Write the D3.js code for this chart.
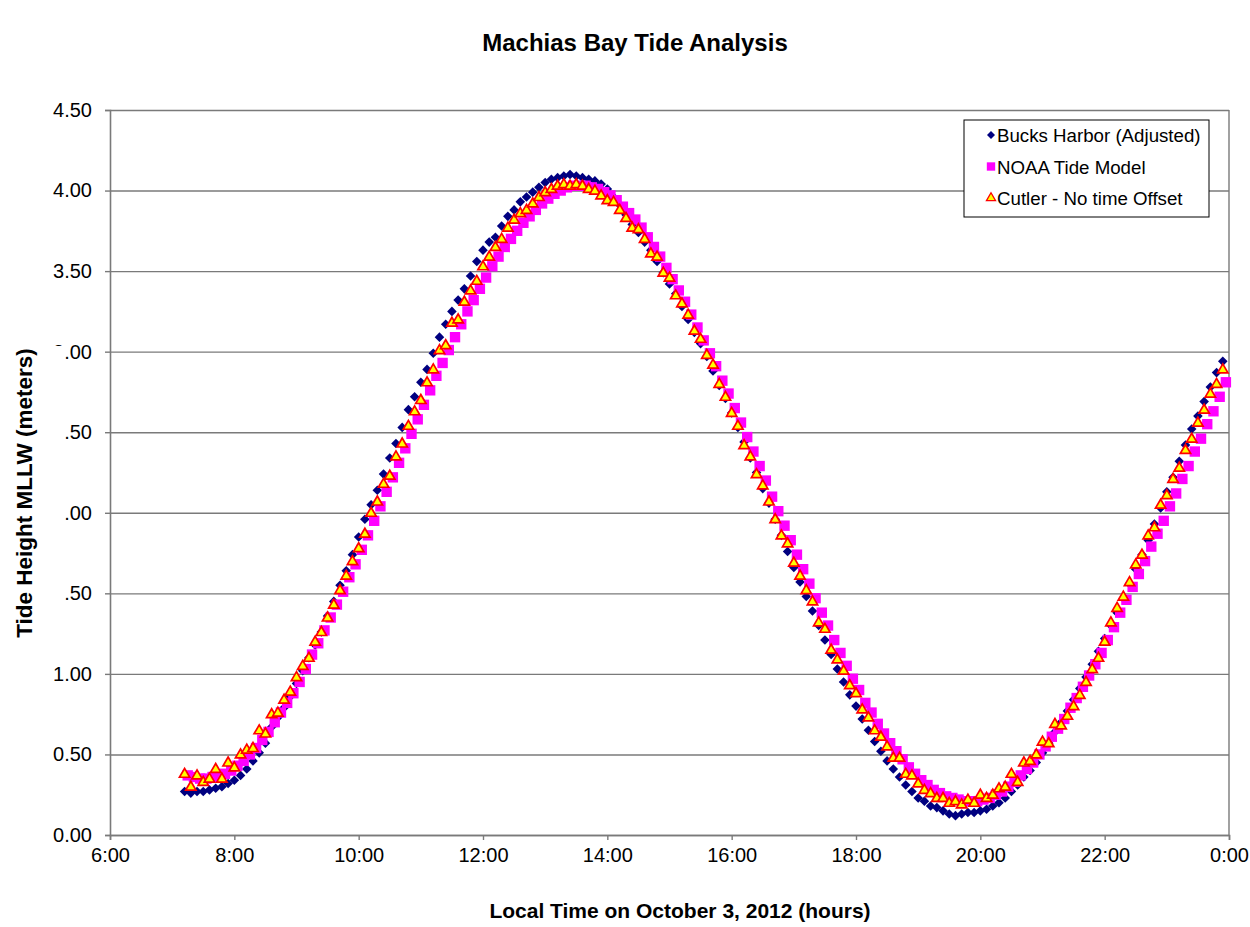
<!DOCTYPE html>
<html><head><meta charset="utf-8">
<script src="https://cdn.jsdelivr.net/npm/d3@7"></script>
<style>
html,body{margin:0;padding:0;background:#fff;overflow:hidden}
svg{display:block;font-family:Arial,"Liberation Sans",sans-serif}
</style></head><body>
<svg id="chart" width="1250" height="927"></svg>
<script>
// ---------- DATA ----------
const chartTitle = "Machias Bay Tide Analysis";
const xAxisTitle = "Local Time on October 3, 2012 (hours)";
const yAxisTitle = "Tide Height MLLW (meters)";
const seriesNames = ["Bucks Harbor (Adjusted)", "NOAA Tide Model", "Cutler - No time Offset"];

const xTickValues = ["6:00","8:00","10:00","12:00","14:00","16:00","18:00","20:00","22:00","24:00"];
const xTickLabels = ["6:00","8:00","10:00","12:00","14:00","16:00","18:00","20:00","22:00","0:00"];
const yTickValues = [0,0.5,1,1.5,2,2.5,3,3.5,4,4.5];

// sample times (Bucks Harbor and Cutler)
const times = [
"7:12","7:18","7:24","7:30","7:36","7:42","7:48","7:54",
"8:00","8:06","8:12","8:18","8:24","8:30","8:36","8:42","8:48","8:54",
"9:00","9:06","9:12","9:18","9:24","9:30","9:36","9:42","9:48","9:54",
"10:00","10:06","10:12","10:18","10:24","10:30","10:36","10:42","10:48","10:54",
"11:00","11:06","11:12","11:18","11:24","11:30","11:36","11:42","11:48","11:54",
"12:00","12:06","12:12","12:18","12:24","12:30","12:36","12:42","12:48","12:54",
"13:00","13:06","13:12","13:18","13:24","13:30","13:36","13:42","13:48","13:54",
"14:00","14:06","14:12","14:18","14:24","14:30","14:36","14:42","14:48","14:54",
"15:00","15:06","15:12","15:18","15:24","15:30","15:36","15:42","15:48","15:54",
"16:00","16:06","16:12","16:18","16:24","16:30","16:36","16:42","16:48","16:54",
"17:00","17:06","17:12","17:18","17:24","17:30","17:36","17:42","17:48","17:54",
"18:00","18:06","18:12","18:18","18:24","18:30","18:36","18:42","18:48","18:54",
"19:00","19:06","19:12","19:18","19:24","19:30","19:36","19:42","19:48","19:54",
"20:00","20:06","20:12","20:18","20:24","20:30","20:36","20:42","20:48","20:54",
"21:00","21:06","21:12","21:18","21:24","21:30","21:36","21:42","21:48","21:54",
"22:00","22:06","22:12","22:18","22:24","22:30","22:36","22:42","22:48","22:54",
"23:00","23:06","23:12","23:18","23:24","23:30","23:36","23:42","23:48","23:54"];

// NOAA model times
const noaaTimes = [
"7:15","7:21","7:27","7:33","7:39","7:45","7:51","7:57",
"8:03","8:09","8:15","8:21","8:27","8:33","8:39","8:45","8:51","8:57",
"9:03","9:09","9:15","9:21","9:27","9:33","9:39","9:45","9:51","9:57",
"10:03","10:09","10:15","10:21","10:27","10:33","10:39","10:45","10:51","10:57",
"11:03","11:09","11:15","11:21","11:27","11:33","11:39","11:45","11:51","11:57",
"12:03","12:09","12:15","12:21","12:27","12:33","12:39","12:45","12:51","12:57",
"13:03","13:09","13:15","13:21","13:27","13:33","13:39","13:45","13:51","13:57",
"14:03","14:09","14:15","14:21","14:27","14:33","14:39","14:45","14:51","14:57",
"15:03","15:09","15:15","15:21","15:27","15:33","15:39","15:45","15:51","15:57",
"16:03","16:09","16:15","16:21","16:27","16:33","16:39","16:45","16:51","16:57",
"17:03","17:09","17:15","17:21","17:27","17:33","17:39","17:45","17:51","17:57",
"18:03","18:09","18:15","18:21","18:27","18:33","18:39","18:45","18:51","18:57",
"19:03","19:09","19:15","19:21","19:27","19:33","19:39","19:45","19:51","19:57",
"20:03","20:09","20:15","20:21","20:27","20:33","20:39","20:45","20:51","20:57",
"21:03","21:09","21:15","21:21","21:27","21:33","21:39","21:45","21:51","21:57",
"22:03","22:09","22:15","22:21","22:27","22:33","22:39","22:45","22:51","22:57",
"23:03","23:09","23:15","23:21","23:27","23:33","23:39","23:45","23:51","23:57"];

const bucksHarbor = [
0.27,0.26,0.27,0.27,0.28,0.29,0.30,0.32,0.34,0.37,
0.41,0.46,0.51,0.57,0.67,0.73,0.79,0.86,0.94,1.02,
1.10,1.18,1.26,1.36,1.45,1.55,1.64,1.74,1.85,1.96,
2.05,2.14,2.24,2.34,2.43,2.53,2.64,2.72,2.81,2.89,
2.99,3.09,3.17,3.25,3.32,3.39,3.47,3.56,3.63,3.68,
3.71,3.78,3.84,3.88,3.93,3.96,3.99,4.02,4.05,4.07,
4.08,4.09,4.10,4.09,4.08,4.07,4.06,4.04,4.01,3.96,
3.91,3.85,3.79,3.74,3.68,3.63,3.56,3.49,3.42,3.36,
3.28,3.20,3.12,3.05,2.97,2.88,2.79,2.71,2.62,2.53,
2.44,2.34,2.25,2.15,2.06,1.96,1.86,1.76,1.66,1.57,
1.48,1.39,1.30,1.21,1.12,1.03,0.95,0.87,0.80,0.72,
0.65,0.58,0.52,0.46,0.41,0.36,0.31,0.27,0.23,0.21,
0.18,0.17,0.15,0.13,0.12,0.13,0.14,0.14,0.15,0.16,
0.18,0.20,0.23,0.27,0.31,0.36,0.40,0.45,0.51,0.57,
0.64,0.70,0.77,0.84,0.91,0.98,1.06,1.14,1.22,1.30,
1.38,1.47,1.56,1.65,1.74,1.83,1.93,2.03,2.13,2.22,
2.32,2.42,2.52,2.60,2.69,2.78,2.87,2.94];

const noaaModel = [
0.37,0.36,0.35,0.35,0.36,0.37,0.38,0.40,0.43,0.46,
0.50,0.54,0.59,0.64,0.70,0.76,0.82,0.88,0.95,1.03,
1.12,1.19,1.27,1.35,1.43,1.51,1.60,1.68,1.77,1.86,
1.95,2.04,2.13,2.22,2.31,2.40,2.49,2.58,2.67,2.76,
2.85,2.93,3.01,3.09,3.17,3.25,3.32,3.39,3.46,3.53,
3.59,3.65,3.70,3.75,3.80,3.84,3.88,3.92,3.95,3.98,
4.00,4.02,4.03,4.03,4.03,4.02,4.01,3.99,3.97,3.94,
3.90,3.86,3.82,3.77,3.71,3.65,3.59,3.52,3.45,3.38,
3.31,3.23,3.15,3.07,2.99,2.91,2.82,2.74,2.65,2.56,
2.47,2.38,2.29,2.20,2.10,2.01,1.92,1.83,1.74,1.65,
1.56,1.47,1.38,1.30,1.21,1.13,1.05,0.97,0.90,0.82,
0.76,0.69,0.63,0.57,0.52,0.47,0.42,0.38,0.34,0.31,
0.28,0.26,0.24,0.23,0.22,0.21,0.21,0.21,0.22,0.23,
0.25,0.27,0.30,0.33,0.37,0.41,0.45,0.50,0.55,0.61,
0.66,0.72,0.79,0.85,0.92,0.99,1.06,1.13,1.21,1.29,
1.38,1.46,1.54,1.62,1.70,1.79,1.87,1.95,2.04,2.12,
2.21,2.29,2.38,2.46,2.55,2.63,2.72,2.81];

const cutler = [
0.38,0.30,0.37,0.33,0.35,0.41,0.35,0.45,0.42,0.50,
0.53,0.54,0.65,0.63,0.75,0.76,0.84,0.89,0.98,1.05,
1.10,1.20,1.26,1.35,1.43,1.52,1.61,1.70,1.78,1.87,
2.00,2.07,2.18,2.23,2.35,2.43,2.54,2.63,2.70,2.81,
2.89,3.01,3.04,3.18,3.20,3.31,3.38,3.44,3.53,3.59,
3.65,3.70,3.77,3.82,3.86,3.88,3.92,3.96,3.99,4.01,
4.03,4.04,4.03,4.04,4.03,4.01,4.00,3.97,3.94,3.93,
3.88,3.83,3.77,3.76,3.70,3.61,3.59,3.49,3.46,3.35,
3.30,3.23,3.13,3.08,2.98,2.92,2.80,2.72,2.62,2.54,
2.42,2.35,2.24,2.17,2.07,1.96,1.86,1.81,1.69,1.61,
1.52,1.45,1.32,1.28,1.15,1.09,1.02,0.93,0.88,0.78,
0.73,0.65,0.61,0.55,0.48,0.48,0.38,0.37,0.32,0.28,
0.26,0.23,0.23,0.20,0.21,0.19,0.22,0.20,0.25,0.23,
0.25,0.29,0.30,0.38,0.33,0.45,0.46,0.50,0.58,0.57,
0.69,0.68,0.74,0.80,0.87,0.95,1.03,1.10,1.20,1.32,
1.41,1.48,1.57,1.68,1.74,1.86,1.91,2.05,2.11,2.21,
2.28,2.39,2.46,2.56,2.64,2.74,2.80,2.89];

// ---------- DRAW ----------
const toHours = s => { const p = s.split(":"); return +p[0] + (+p[1]) / 60; };
const W = 1250, H = 927;
const m = {left: 110, right: 1229, top: 110, bottom: 835};
const FONT = "Arial, 'Liberation Sans', sans-serif";
const svg = d3.select("#chart");
svg.append("rect").attr("width", W).attr("height", H).attr("fill", "#fff");

const x = d3.scaleLinear().domain([toHours(xTickValues[0]), toHours(xTickValues[xTickValues.length-1])]).range([m.left, m.right]);
const y = d3.scaleLinear().domain([0, 4.5]).range([m.bottom, m.top]);

const gridColor = "#7a7a7a";

// gridlines
svg.append("g").attr("transform", `translate(${m.left},0)`)
  .call(d3.axisLeft(y).tickValues(yTickValues).tickSize(-(m.right - m.left)).tickFormat(""))
  .call(g => g.select(".domain").remove())
  .call(g => g.selectAll("line").attr("stroke", gridColor).attr("stroke-width", 1.4));

// plot border (right side)
svg.append("line").attr("x1", m.right).attr("x2", m.right).attr("y1", m.top).attr("y2", m.bottom)
  .attr("stroke", gridColor).attr("stroke-width", 1.4);

// y axis
const yAxisG = svg.append("g").attr("transform", `translate(${m.left},0)`)
  .call(d3.axisLeft(y).tickValues(yTickValues).tickSize(5).tickPadding(13).tickFormat(d3.format(".2f")));
yAxisG.select(".domain").attr("stroke", gridColor).attr("stroke-width", 1.6);
yAxisG.selectAll(".tick line").attr("stroke", gridColor).attr("stroke-width", 1.4);
yAxisG.selectAll("text").attr("font-size", 20).attr("fill", "#000").attr("font-family", FONT);

// x axis
const xAxisG = svg.append("g").attr("transform", `translate(0,${m.bottom})`)
  .call(d3.axisBottom(x).tickValues(xTickValues.map(toHours)).tickSize(5).tickPadding(8)
    .tickFormat((d, i) => xTickLabels[i]));
xAxisG.select(".domain").attr("stroke", gridColor).attr("stroke-width", 1.6);
xAxisG.selectAll(".tick line").attr("stroke", gridColor).attr("stroke-width", 1.4);
xAxisG.selectAll("text").attr("font-size", 20).attr("fill", "#000").attr("font-family", FONT);

// series
const diamond = d3.symbol(d3.symbolSquare, 46)();
const square = d3.symbol(d3.symbolSquare, 108)();
const triangle = d3.symbol(d3.symbolTriangle, 46)();

const bucksData = times.map((t, i) => ({t: toHours(t), v: bucksHarbor[i]}));
const noaaData = noaaTimes.map((t, i) => ({t: toHours(t), v: noaaModel[i]}));
const cutlerData = times.map((t, i) => ({t: toHours(t), v: cutler[i]}));

svg.append("g").selectAll("path").data(bucksData).join("path")
  .attr("d", diamond)
  .attr("transform", d => `translate(${x(d.t)},${y(d.v)}) rotate(45)`)
  .attr("fill", "#000080");

svg.append("g").selectAll("path").data(noaaData).join("path")
  .attr("d", square)
  .attr("transform", d => `translate(${x(d.t)},${y(d.v)})`)
  .attr("fill", "#ff00ff");

svg.append("g").selectAll("path").data(cutlerData).join("path")
  .attr("d", triangle)
  .attr("transform", d => `translate(${x(d.t)},${y(d.v) + 0.5})`)
  .attr("fill", "#ffff00").attr("stroke", "#ff0000").attr("stroke-width", 1.7);

// y-axis title on white block (covers part of the tick labels as in the original)
svg.append("rect").attr("x", 0).attr("y", 346).attr("width", 65).attr("height", 317).attr("fill", "#fff");
svg.append("text")
  .attr("transform", "translate(32,493) rotate(-90)")
  .attr("text-anchor", "middle")
  .attr("font-size", 22.5).attr("font-weight", "bold")
  .text(yAxisTitle);

// x-axis title
svg.append("text").attr("x", 680).attr("y", 918).attr("text-anchor", "middle")
  .attr("font-size", 21).attr("font-weight", "bold").text(xAxisTitle);

// chart title
svg.append("text").attr("x", 635).attr("y", 51).attr("text-anchor", "middle")
  .attr("font-size", 24).attr("font-weight", "bold").text(chartTitle);

// legend
const lg = svg.append("g").attr("transform", "translate(964,120)");
lg.append("rect").attr("width", 245).attr("height", 97).attr("fill", "#fff")
  .attr("stroke", "#000").attr("stroke-width", 1);
const legendItems = [
  {name: seriesNames[0], d: d3.symbol(d3.symbolSquare, 32)(), rot: 45, fill: "#000080", stroke: "none"},
  {name: seriesNames[1], d: d3.symbol(d3.symbolSquare, 70)(), rot: 0, fill: "#ff00ff", stroke: "none"},
  {name: seriesNames[2], d: d3.symbol(d3.symbolTriangle, 36)(), rot: 0, fill: "#ffff00", stroke: "#ff0000"}
];
legendItems.forEach((it, i) => {
  const yy = 15 + i * 31.5;
  lg.append("path").attr("d", it.d)
    .attr("transform", `translate(27,${yy}) rotate(${it.rot})`)
    .attr("fill", it.fill).attr("stroke", it.stroke).attr("stroke-width", 1.3);
  lg.append("text").attr("x", 33).attr("y", yy + 7).attr("font-size", 18.7).text(it.name);
});
</script>
</body></html>
